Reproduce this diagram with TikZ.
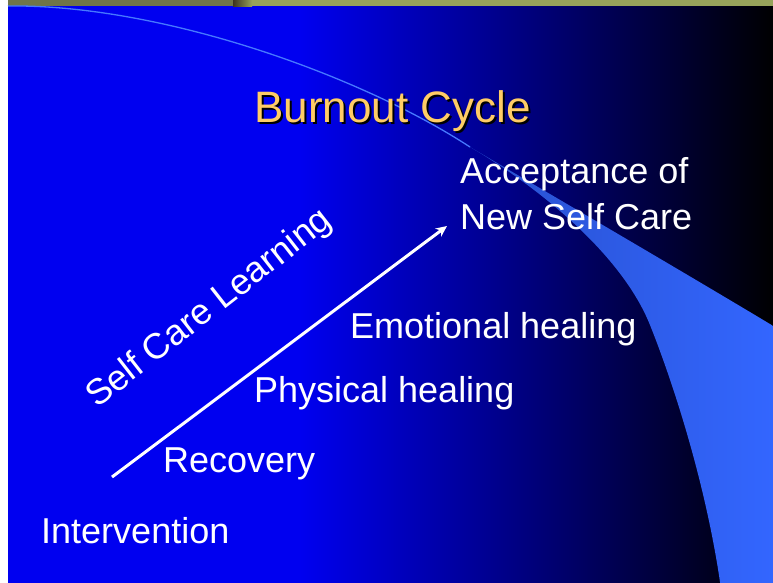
\documentclass[tikz,border=0pt]{standalone}
\usepackage{fontspec}
\setmainfont{Liberation Sans}
\usepackage{xcolor}
\usetikzlibrary{arrows.meta, positioning}
\definecolor{slideblue}{RGB}{0,0,240}
\definecolor{swoosh}{RGB}{51,102,255}
\definecolor{swooshdark}{RGB}{40,80,205}
\definecolor{swooshline}{RGB}{70,120,255}
\definecolor{titlegold}{RGB}{255,204,102}
\definecolor{oliveleft}{RGB}{111,117,73}
\definecolor{oliveright}{RGB}{151,163,91}
\definecolor{olivedark}{RGB}{60,50,32}
\tikzset{
    slidetext/.style={text=white, inner sep=0pt, anchor=base west, align=left,
        font=\fontsize{36}{46}\selectfont},
    titletext/.style={inner sep=0pt, anchor=base west, font=\fontsize{44}{50}\selectfont},
    arrowline/.style={white, line width=3pt, -{Stealth[length=11pt,width=10pt]}}
}

\begin{document}
\begin{tikzpicture}[x=1pt, y=-1pt]
        \useasboundingbox (0,0) rectangle (773,582);
        % background
        \fill[white] (0,0) rectangle (773,590);
        \fill[slideblue] (8,6) rectangle (301,590);
        \shade[left color=slideblue, right color=black] (300,6) rectangle (775,590);
        % top strip
        \fill[oliveleft] (8,0) rectangle (233,6);
        \shade[left color=olivedark, right color=oliveright] (233,0) rectangle (252,6);
        \fill[oliveright] (252,0) rectangle (775,6);
        % swoosh
        \draw[swooshline, line width=1.3pt] (8,6) .. controls (160,4) and (360,75) .. (470,147);
        \shade[left color=swooshdark, right color=swoosh]
            (470,147) .. controls (560,200) and (680,270) .. (775,327)
            -- (775,590) -- (720,590) -- (720,582)
            .. controls (705,480) and (672,380) .. (650,325)
            .. controls (622,255) and (540,188) .. (470,147) -- cycle;
        % title
        \node[titletext, text=black] (titleshadow) at (256,124) {Burnout Cycle};
        \node[titletext, text=titlegold] (title) at (254,122) {Burnout Cycle};
        % stages
        \foreach \x/\y/\name/\txt in {41/543/intervention/Intervention,
                                      163/472/recovery/Recovery,
                                      254/402/physical/Physical healing,
                                      350/338/emotional/Emotional healing,
                                      460/229/acceptance/{Acceptance of\\New Self Care}}{
            \node[slidetext] (\name) at (\x,\y) {\txt};
        }
        % arrow
        \coordinate (arrowstart) at (112,477);
        \coordinate (arrowtip) at (447,226);
        \draw[arrowline] (arrowstart) -- (arrowtip);
        \node[slidetext, rotate=38] (learning) at (97,409) {Self Care Learning};
    \end{tikzpicture}
\end{document}
